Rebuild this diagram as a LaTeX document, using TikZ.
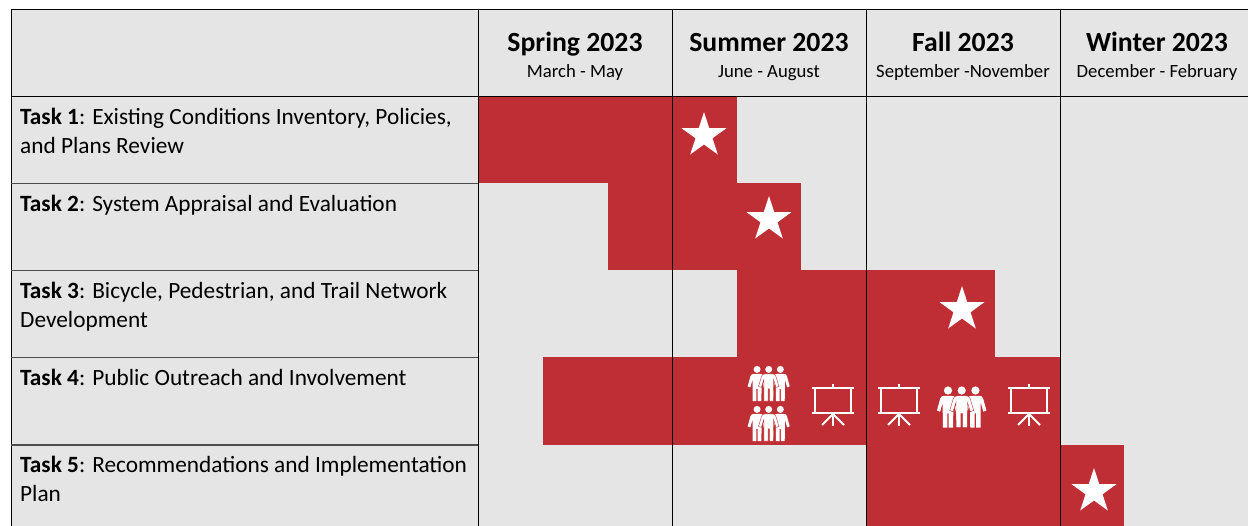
\documentclass[tikz,border=0pt]{standalone}
\usepackage{fontspec}
\setmainfont{Carlito}
\usetikzlibrary{shapes.geometric}
\definecolor{barred}{HTML}{C02E35}
\definecolor{cellgray}{HTML}{E5E5E5}
\newcommand{\personbody}{(-4,9.3) -- (4,9.3) .. controls (6.5,9.3) and (7.8,10) .. (8.4,12)
   -- (12,24) -- (8.6,25.2) -- (5.8,16) -- (5.6,41.2) -- (.8,41.2) -- (.8,27) -- (-.8,27) -- (-.8,41.2) -- (-5.6,41.2)
   -- (-5.8,16) -- (-8.6,25.2) -- (-12,24) -- (-8.4,12) .. controls (-7.8,10) and (-6.5,9.3) .. (-4,9.3) -- cycle}
\tikzset{
  x=1pt,y=-1pt,
  vrule/.style={line width=1pt,draw=black},
  hrule/.style={line width=1.2pt,draw=black!70},
  bar/.style={fill=barred,draw=none},
  seasonnode/.style={inner sep=0pt,anchor=base,font=\fontsize{27.7}{30}\selectfont\bfseries},
  monthnode/.style={inner sep=0pt,anchor=base,font=\fontsize{18.7}{22}\selectfont},
  tasknode/.style={align=left,anchor=north west,inner sep=0pt,text width=455pt,font=\fontsize{23.3}{29}\selectfont,
    execute at begin node={\spaceskip=0pt\relax\xspaceskip=0pt\relax}},
  starnode/.style={star,star points=5,star point ratio=2.618,fill=white,draw=none,minimum size=47pt,inner sep=0pt},
  pics/sideperson/.style={code={
    \fill[white] (0,4) circle (4.1);
    \fill[white,xscale=.92] \personbody;
  }},
  pics/frontperson/.style={code={
    \fill[white] (0,4) circle (4.1);
    \fill[white,draw=barred,line width=.4pt] \personbody;
  }},
  pics/crowd/.style={code={
    \pic[transform shape] at (-13.7,0) {sideperson};
    \pic[transform shape] at (13.7,0) {sideperson};
    \pic[transform shape] at (0,0) {frontperson};
  }},
  pics/screen/.style={code={
    \fill[white] (-.8,0) rectangle (.8,4);
    \fill[white] (-21,3) rectangle (21,5);
    \fill[white] (-21,28) rectangle (21,30.5);
    \draw[white,line width=2.8pt] (-18,4) rectangle (18,29);
    \draw[white,line width=1.8pt] (0,30) -- (0,42);
    \draw[white,line width=1.8pt] (0,30) -- (-11,41);
    \draw[white,line width=1.8pt] (0,30) -- (11,41);
  }},
}
\begin{document}
\begin{tikzpicture}
\useasboundingbox (0,0) rectangle (1248,526);
\fill[white] (0,0) rectangle (1248,526);
\fill[cellgray] (11,10) rectangle (1248,526);
% bars
\fill[bar] (478,97) rectangle (737,183);
\fill[bar] (608,183) rectangle (801,270);
\fill[bar] (737,270) rectangle (995,357);
\fill[bar] (543,357) rectangle (1060,445);
\fill[bar] (866,445) rectangle (1124,526);
% rules
\draw[vrule] (1248,10) -- (11,10) -- (11,526);
\draw[vrule] (11,97) -- (1248,97);
\foreach \yy in {183.7,270.7,357.7,445} \draw[hrule] (11,\yy) -- (478,\yy);
\foreach \xx in {478.5,672.3,866,1060} \draw[vrule] (\xx,10) -- (\xx,526);
% headers
\node[seasonnode] (spring) at (575,52) {Spring 2023};
\node[monthnode] (springm) at (575,77.5) {March - May};
\node[seasonnode] (summer) at (769,52) {Summer 2023};
\node[monthnode] (summerm) at (769,77.5) {June - August};
\node[seasonnode] (fall) at (963,52) {Fall 2023};
\node[monthnode] (fallm) at (963,77.5) {September -November};
\node[seasonnode] (winter) at (1157,52) {Winter 2023};
\node[monthnode] (winterm) at (1157,77.5) {December - February};
% tasks
\node[tasknode] (t1) at (20,108) {\textbf{Task 1}: Existing Conditions Inventory, Policies,\\and Plans Review};
\node[tasknode] (t2) at (20,195) {\textbf{Task 2}: System Appraisal and Evaluation};
\node[tasknode] (t3) at (20,282) {\textbf{Task 3}: Bicycle, Pedestrian, and Trail Network\\Development};
\node[tasknode] (t4) at (20,369) {\textbf{Task 4}: Public Outreach and Involvement};
\node[tasknode] (t5) at (20,456) {\textbf{Task 5}: Recommendations and Implementation\\Plan};
% stars
\node[starnode] (s1) at (704,135.5) {};
\node[starnode] (s2) at (769,219.5) {};
\node[starnode] (s3) at (962,309.5) {};
\node[starnode] (s4) at (1094,491.5) {};
% icons
\pic[transform shape,scale=.85] at (768.7,366) {crowd};
\pic[transform shape,scale=.85] at (768.7,406) {crowd};
\pic at (961.7,386.5) {crowd};
\pic at (833,384) {screen};
\pic at (899,384) {screen};
\pic at (1029,384) {screen};
\end{tikzpicture}
\end{document}
